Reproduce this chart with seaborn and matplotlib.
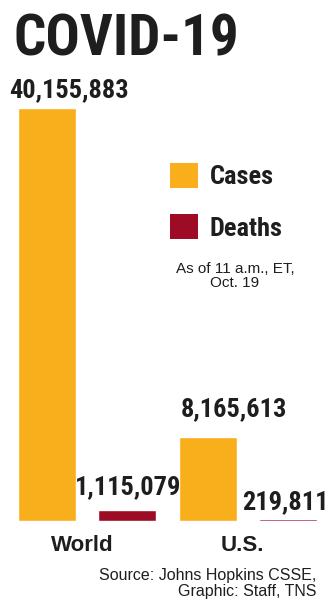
import matplotlib
matplotlib.use("Agg")
import matplotlib.pyplot as plt
from matplotlib.patches import Patch
import seaborn as sns
import pandas as pd
from matplotlib import font_manager as fm

regions = ["World", "U.S."]
metrics = ["Cases", "Deaths"]
cases = [40155883, 8165613]
deaths = [1115079, 219811]
value_labels = {("World", "Cases"): "40,155,883", ("World", "Deaths"): "1,115,079",
                ("U.S.", "Cases"): "8,165,613", ("U.S.", "Deaths"): "219,811"}

df = pd.DataFrame({
    "region": regions * 2,
    "metric": ["Cases"] * 2 + ["Deaths"] * 2,
    "value": cases + deaths,
})

sns.set_style("white")
plt.rcParams['font.family'] = ['Liberation Sans', 'DejaVu Sans']

ORANGE = "#F9AE1B"
RED = "#9E0B25"
INK = "#1E1E1E"
heavy = dict(family="Roboto Condensed", weight=900)

fig = plt.figure(figsize=(3.29, 6.0), dpi=100)
ax = fig.add_axes([0, (600 - 521) / 600, 1, (521 - 108) / 600])

sns.barplot(data=df, x="region", y="value", hue="metric", order=regions,
            hue_order=metrics, palette=[ORANGE, RED], width=1.0, gap=0.28,
            legend=False, saturation=1, ax=ax)

ax.set_xlim(-0.54, 1.503)
ax.set_ylim(0, max(cases))
for s in ax.spines.values():
    s.set_visible(False)
ax.set_yticks([])
ax.set_xticks([-0.031, 0.963])
ax.set_xticklabels(regions, fontsize=16, fontweight="bold", color=INK)
ax.tick_params(axis="x", length=0, pad=10)
ax.set_xlabel("")
ax.set_ylabel("")

# value label offsets in pixels (dx, dy) from bar top-center
offsets = {("World", "Cases"): (22, 5.5), ("World", "Deaths"): (0.5, 10),
           ("U.S.", "Cases"): (26, 15.5), ("U.S.", "Deaths"): (-2.5, 4.2)}
for container, metric in zip(ax.containers, metrics):
    for bar, region in zip(container, regions):
        cx = bar.get_x() + bar.get_width() / 2
        top = bar.get_height()
        dx, dy = offsets[(region, metric)]
        ax.annotate(value_labels[(region, metric)], (cx, top),
                    xytext=(dx * 0.72, dy * 0.72), textcoords="offset points",
                    ha="center", va="bottom", fontsize=19, color=INK,
                    annotation_clip=False, **heavy)

# title
fig.text(14 / 329, 1 - 12 / 600, "COVID-19", ha="left", va="top",
         fontsize=41, color=INK, **heavy)

# legend
handles = [Patch(facecolor=ORANGE, edgecolor="none"), Patch(facecolor=RED, edgecolor="none")]
leg = fig.legend(handles, metrics, loc="upper left",
                 bbox_to_anchor=(170 / 329, 1 - 163 / 600), frameon=False,
                 prop=fm.FontProperties(size=19, **heavy),
                 handlelength=1.06, handleheight=1.06, labelspacing=0.95,
                 handletextpad=0.45, borderpad=0, borderaxespad=0)
for t in leg.get_texts():
    t.set_color(INK)

fig.text(235 / 329, 1 - 262 / 600, "As of 11 a.m., ET,\nOct. 19", ha="center", va="top",
         fontsize=11, color=INK, linespacing=1.02)

fig.text(316 / 329, 1 - 599 / 600, "Source: Johns Hopkins CSSE,\nGraphic: Staff, TNS",
         ha="right", va="bottom", fontsize=11.5, color=INK, linespacing=1.05,
         multialignment="right")

fig.savefig("out.png", dpi=100)
